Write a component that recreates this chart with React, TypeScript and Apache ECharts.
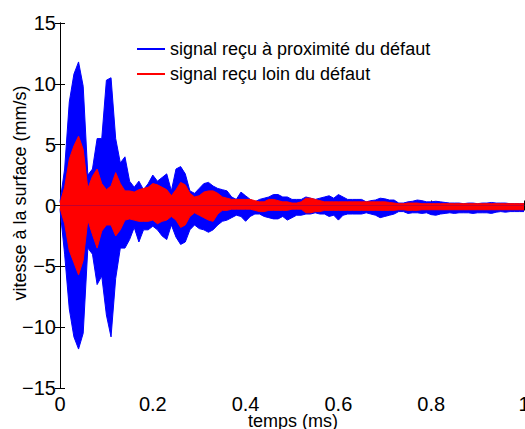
import React, { useEffect, useRef } from "react";
import * as echarts from "echarts";

// sample times (ms)
const times = [
  0.00, 0.01, 0.02, 0.03, 0.04, 0.05, 0.06, 0.07, 0.08, 0.09,
  0.10, 0.11, 0.12, 0.13, 0.14, 0.15, 0.16, 0.17, 0.18, 0.19,
  0.20, 0.21, 0.22, 0.23, 0.24, 0.25, 0.26, 0.27, 0.28, 0.29,
  0.30, 0.31, 0.32, 0.33, 0.34, 0.35, 0.36, 0.37, 0.38, 0.39,
  0.40, 0.41, 0.42, 0.43, 0.44, 0.45, 0.46, 0.47, 0.48, 0.49,
  0.50, 0.51, 0.52, 0.53, 0.54, 0.55, 0.56, 0.57, 0.58, 0.59,
  0.60, 0.61, 0.62, 0.63, 0.64, 0.65, 0.66, 0.67, 0.68, 0.69,
  0.70, 0.71, 0.72, 0.73, 0.74, 0.75, 0.76, 0.77, 0.78, 0.79,
  0.80, 0.81, 0.82, 0.83, 0.84, 0.85, 0.86, 0.87, 0.88, 0.89,
  0.90, 0.91, 0.92, 0.93, 0.94, 0.95, 0.96, 0.97, 0.98, 0.99,
  1.00,
];

// envelope of the signal near the defect (mm/s)
const nearUpper = [
  0.3, 3.0, 8.5, 10.8, 11.8, 9.8, 2.5, 3.0, 5.5, 5.5,
  10.3, 10.5, 5.5, 3.5, 4.0, 2.0, 1.5, 2.0, 1.3, 1.8,
  2.5, 2.0, 2.3, 2.6, 1.2, 3.0, 3.2, 2.6, 1.2, 1.0,
  1.4, 1.8, 1.9, 1.6, 1.4, 1.3, 1.2, 0.7, 0.5, 1.1,
  0.8, 0.5, 0.3, 0.5, 0.6, 0.7, 0.9, 0.9, 0.7, 0.7,
  0.5, 0.5, 0.5, 0.7, 0.6, 0.5, 0.6, 0.7, 0.8, 0.6,
  0.9, 0.7, 0.5, 0.5, 0.5, 0.5, 0.3, 0.4, 0.45, 0.6,
  0.55, 0.45, 0.45, 0.2, 0.2, 0.3, 0.35, 0.45, 0.4, 0.3,
  0.3, 0.35, 0.3, 0.25, 0.2, 0.2, 0.2, 0.15, 0.2, 0.2,
  0.15, 0.2, 0.2, 0.25, 0.2, 0.2, 0.2, 0.15, 0.15, 0.15,
  0.15,
];
const nearLower = [
  -0.3, -4.0, -8.5, -10.8, -11.8, -10.5, -3.5, -4.0, -6.5, -5.8,
  -9.0, -10.8, -6.0, -3.5, -3.5, -2.8, -1.8, -3.0, -2.0, -2.0,
  -1.7, -2.0, -2.5, -2.8, -1.6, -2.6, -3.2, -3.0, -2.0, -1.6,
  -1.9, -2.0, -2.2, -2.0, -1.6, -1.3, -1.2, -1.0, -0.8, -0.9,
  -1.3, -0.9, -0.7, -0.7, -0.9, -1.0, -1.1, -1.1, -0.9, -1.2,
  -1.0, -0.8, -0.8, -0.7, -0.7, -0.6, -0.7, -0.7, -0.9, -0.8,
  -1.2, -0.8, -0.7, -0.7, -0.7, -0.7, -0.6, -0.7, -0.8, -1.0,
  -0.9, -0.8, -0.7, -0.5, -0.5, -0.65, -0.6, -0.6, -0.65, -0.6,
  -0.75, -0.8, -0.7, -0.65, -0.6, -0.65, -0.6, -0.6, -0.6, -0.65,
  -0.6, -0.6, -0.6, -0.65, -0.55, -0.5, -0.55, -0.5, -0.5, -0.5,
  -0.5,
];

// envelope of the signal far from the defect (mm/s)
const farUpper = [
  0.2, 1.5, 3.8, 4.9, 5.7, 4.6, 1.4, 2.4, 3.0, 1.8,
  1.3, 1.6, 2.7, 1.8, 1.2, 1.2, 1.1, 1.3, 1.4, 1.5,
  1.8, 1.7, 1.5, 1.3, 0.8, 1.3, 1.9, 1.7, 1.0, 0.7,
  0.8, 1.1, 1.2, 1.2, 1.0, 0.7, 0.6, 0.5, 0.5, 0.5,
  0.5, 0.5, 0.4, 0.3, 0.3, 0.5, 0.5, 0.4, 0.3, 0.3,
  0.2, 0.2, 0.3, 0.6, 0.6, 0.5, 0.4, 0.3, 0.3, 0.3,
  0.3, 0.3, 0.3, 0.3, 0.3, 0.3, 0.3, 0.3, 0.3, 0.3,
  0.3, 0.25, 0.2, 0.15, 0.15, 0.2, 0.2, 0.2, 0.15, 0.15,
  0.15, 0.15, 0.15, 0.15, 0.15, 0.15, 0.15, 0.15, 0.15, 0.15,
  0.15, 0.15, 0.15, 0.15, 0.15, 0.15, 0.15, 0.15, 0.15, 0.15,
  0.15,
];
const farLower = [
  -0.2, -1.5, -3.7, -4.7, -5.7, -4.5, -1.2, -2.4, -3.5, -2.1,
  -1.6, -1.6, -2.5, -2.0, -1.2, -1.1, -1.2, -1.3, -1.3, -1.3,
  -1.2, -1.5, -1.3, -1.2, -0.9, -1.2, -1.8, -1.6, -0.9, -0.6,
  -0.8, -1.0, -1.2, -1.3, -0.7, -0.4, -0.4, -0.3, -0.3, -0.3,
  -0.3, -0.3, -0.4, -0.5, -0.5, -0.4, -0.4, -0.4, -0.4, -0.4,
  -0.3, -0.3, -0.3, -0.6, -0.6, -0.5, -0.5, -0.4, -0.4, -0.4,
  -0.4, -0.4, -0.4, -0.4, -0.4, -0.4, -0.4, -0.4, -0.4, -0.4,
  -0.4, -0.4, -0.4, -0.35, -0.35, -0.4, -0.4, -0.4, -0.35, -0.35,
  -0.35, -0.35, -0.35, -0.35, -0.35, -0.35, -0.35, -0.35, -0.35, -0.35,
  -0.35, -0.35, -0.35, -0.35, -0.35, -0.35, -0.35, -0.35, -0.35, -0.35,
  -0.35,
];

const nameNear = "signal reçu à proximité du défaut";
const nameFar = "signal reçu loin du défaut";
const xTitle = "temps (ms)";
const yTitle = "vitesse à la surface (mm/s)";

const FONT = "'Liberation Sans', Arial, Helvetica, sans-serif";
const BLUE = "#0000ff";
const RED = "#ff0000";

function pairs(ys: number[]) {
  return times.map((t, i) => [t, ys[i]]);
}

function band(name: string, ys: number[], color: string, z: number) {
  return {
    type: "line",
    name,
    data: pairs(ys),
    showSymbol: false,
    symbol: "none",
    z,
    lineStyle: { color, width: 1 },
    itemStyle: { color },
    areaStyle: { color, opacity: 1 },
  };
}

export default function App() {
  const ref = useRef<HTMLDivElement>(null);
  useEffect(() => {
    if (!ref.current) return;
    const chart = echarts.init(ref.current, undefined, { renderer: "svg" });
    const minus = (v: number) => (v < 0 ? "\u2212" + Math.abs(v) : String(v));
    const tickStyle = { show: true, inside: true, length: 5, lineStyle: { color: "#000", width: 1 } };
    const lineStyle = { show: true, lineStyle: { color: "#000", width: 1 } };
    chart.setOption({
      animation: false,
      backgroundColor: "#fff",
      textStyle: { fontFamily: FONT },
      grid: {
        left: 60,
        right: 1,
        top: 23,
        bottom: 41,
        containLabel: false,
        outerBoundsMode: "none",
      },
      legend: {
        left: 137,
        top: 40,
        padding: 0,
        orient: "vertical",
        icon: "rect",
        itemWidth: 28,
        itemHeight: 2,
        itemGap: 7,
        data: [nameNear, nameFar],
        textStyle: { fontSize: 18, color: "#000", fontFamily: FONT },
        selectedMode: false,
      },
      xAxis: [
        {
          type: "value",
          min: 0,
          max: 1,
          interval: 0.2,
          position: "bottom",
          axisLine: lineStyle,
          axisTick: tickStyle,
          splitLine: { show: false },
          axisLabel: {
            color: "#000",
            fontSize: 20,
            margin: 6,
            fontFamily: FONT,
            formatter: (v: number) => String(Math.round(v * 10) / 10),
          },
        },
        {
          type: "value",
          min: 0,
          max: 1,
          interval: 0.2,
          position: "top",
          axisLine: lineStyle,
          axisTick: tickStyle,
          splitLine: { show: false },
          axisLabel: { show: false },
        },
      ],
      yAxis: [
        {
          type: "value",
          min: -15,
          max: 15,
          interval: 5,
          position: "left",
          axisLine: lineStyle,
          axisTick: tickStyle,
          splitLine: { show: false },
          axisLabel: {
            color: "#000",
            fontSize: 20,
            margin: 4,
            fontFamily: FONT,
            formatter: minus,
          },
        },
        {
          type: "value",
          min: -15,
          max: 15,
          interval: 5,
          position: "right",
          axisLine: lineStyle,
          axisTick: tickStyle,
          splitLine: { show: false },
          axisLabel: { show: false },
        },
      ],
      graphic: [
        {
          type: "text",
          x: 20,
          y: 193,
          rotation: Math.PI / 2,
          style: {
            text: yTitle,
            fontSize: 18,
            fontFamily: FONT,
            fill: "#000",
            align: "center",
            verticalAlign: "middle",
          },
        },
        {
          type: "text",
          x: 293,
          y: 421,
          style: {
            text: xTitle,
            fontSize: 18,
            fontFamily: FONT,
            fill: "#000",
            align: "center",
            verticalAlign: "middle",
          },
        },
      ],
      series: [
        band(nameNear, nearUpper, BLUE, 2),
        band(nameNear, nearLower, BLUE, 2),
        band(nameFar, farUpper, RED, 3),
        band(nameFar, farLower, RED, 3),
      ],
    });
    return () => chart.dispose();
  }, []);
  return (
    <div
      ref={ref}
      style={{ position: "fixed", left: 0, top: 0, width: 525, height: 429 }}
    />
  );
}
